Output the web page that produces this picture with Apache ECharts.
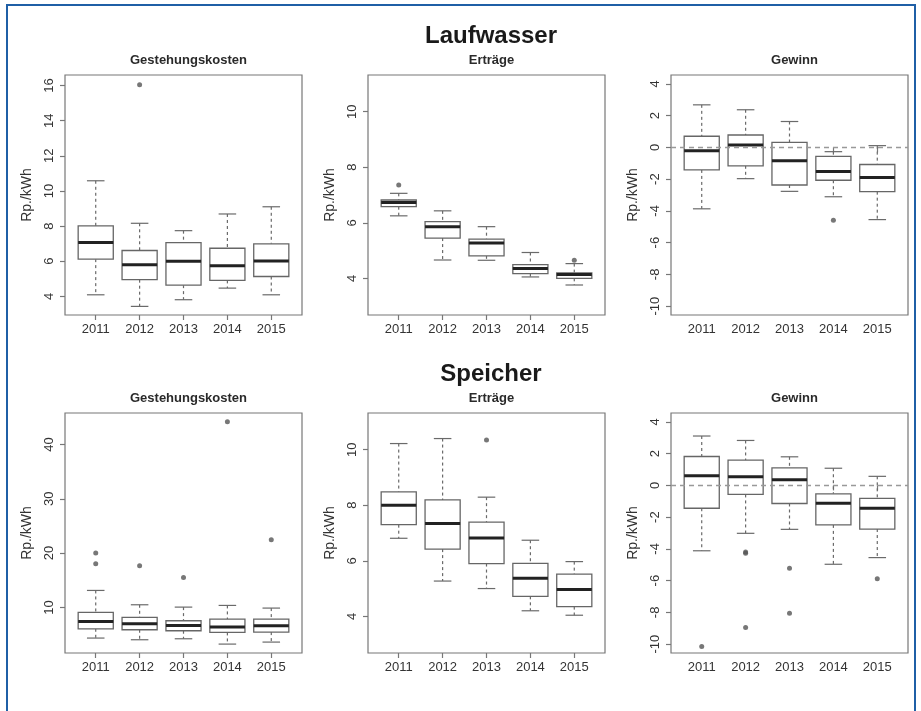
<!DOCTYPE html>
<html>
<head>
<meta charset="utf-8">
<script src="https://cdn.jsdelivr.net/npm/echarts@6/dist/echarts.min.js"></script>
<style>
  html, body { margin: 0; padding: 0; background: #fff; }
  #box { width: 921px; height: 711px; }
</style>
</head>
<body>
<div id="box"></div>
<script>
// categories
var years = ['2011', '2012', '2013', '2014', '2015'];

// box values per year: [lower whisker, Q1, median, Q3, upper whisker]
var lwKostenBox = [[4.09, 6.12, 7.06, 8.01, 10.58], [3.43, 4.95, 5.80, 6.61, 8.16], [3.81, 4.64, 6.00, 7.06, 7.74], [4.47, 4.91, 5.74, 6.74, 8.69], [4.09, 5.13, 6.02, 6.99, 9.10]];
var lwErtragBox = [[6.25, 6.58, 6.73, 6.82, 7.06], [4.66, 5.45, 5.86, 6.04, 6.43], [4.65, 4.81, 5.27, 5.41, 5.86], [4.05, 4.17, 4.35, 4.49, 4.93], [3.76, 4.00, 4.14, 4.20, 4.53]];
var lwGewinnBox = [[-3.87, -1.42, -0.21, 0.70, 2.68], [-1.97, -1.16, 0.15, 0.78, 2.37], [-2.77, -2.37, -0.85, 0.32, 1.63], [-3.11, -2.07, -1.52, -0.57, -0.27], [-4.55, -2.79, -1.90, -1.08, 0.11]];
var spKostenBox = [[4.36, 6.07, 7.42, 9.08, 13.13], [4.05, 5.89, 6.99, 8.16, 10.49], [4.23, 5.71, 6.69, 7.55, 10.06], [3.25, 5.40, 6.38, 7.85, 10.37], [3.62, 5.46, 6.63, 7.85, 9.88]];
var spErtragBox = [[6.81, 7.30, 8.00, 8.48, 10.22], [5.27, 6.42, 7.34, 8.19, 10.40], [5.00, 5.90, 6.82, 7.39, 8.29], [4.20, 4.72, 5.37, 5.91, 6.74], [4.04, 4.35, 4.97, 5.52, 5.97]];
var spGewinnBox = [[-4.12, -1.44, 0.61, 1.82, 3.11], [-3.02, -0.57, 0.55, 1.59, 2.83], [-2.77, -1.14, 0.36, 1.10, 1.80], [-4.97, -2.49, -1.12, -0.53, 1.08], [-4.55, -2.75, -1.44, -0.82, 0.57]];

// outliers: [year position (1..5), value]
var lwKostenOut = [[2, 16.04]];
var lwErtragOut = [[1, 7.36], [5, 4.65]];
var lwGewinnOut = [[4, -4.59]];
var spKostenOut = [[1, 20.0], [1, 18.04], [2, 17.67], [3, 15.52], [4, 44.17], [5, 22.45]];
var spErtragOut = [[3, 10.35]];
var spGewinnOut = [[1, -10.15], [2, -4.2], [2, -4.28], [2, -8.96], [3, -5.22], [3, -8.05], [5, -5.88]];

// y tick labels
var kostenLwTicks = [4, 6, 8, 10, 12, 14, 16];
var kostenSpTicks = [10, 20, 30, 40];
var ertragTicks = [4, 6, 8, 10];
var gewinnTicks = [-10, -8, -6, -4, -2, 0, 2, 4];

var titles = ['Laufwasser', 'Speicher'];
var panelTitles = ['Gestehungskosten', 'Erträge', 'Gewinn'];

var font = 'Liberation Sans, Arial, Helvetica, sans-serif';
var colLeft = [65, 368, 671];
var rowTop = [75, 413];
var panelW = 237, panelH = 240;

var panels = [
    { box: lwKostenBox, out: lwKostenOut, ticks: kostenLwTicks, min: 2.94, max: 16.6, zero: false },
    { box: lwErtragBox, out: lwErtragOut, ticks: ertragTicks, min: 2.68, max: 11.32, zero: false },
    { box: lwGewinnBox, out: lwGewinnOut, ticks: gewinnTicks, min: -10.56, max: 4.56, zero: true },
    { box: spKostenBox, out: spKostenOut, ticks: kostenSpTicks, min: 1.61, max: 45.8, zero: false },
    { box: spErtragBox, out: spErtragOut, ticks: ertragTicks, min: 2.68, max: 11.32, zero: false },
    { box: spGewinnBox, out: spGewinnOut, ticks: gewinnTicks, min: -10.56, max: 4.56, zero: true }
];

// R style box: dashed whiskers, solid staples, thick median
function renderBox(params, api) {
    var x = api.value(0);
    var low = api.coord([x, api.value(1)]);
    var q1 = api.coord([x, api.value(2)]);
    var med = api.coord([x, api.value(3)]);
    var q3 = api.coord([x, api.value(4)]);
    var high = api.coord([x, api.value(5)]);
    var bw = api.size([0.8, 0])[0];
    var sw = bw * 0.5;
    var cx = low[0];
    var dash = { stroke: '#6a6a6a', lineWidth: 1.2, lineDash: [3, 3] };
    var solid = { stroke: '#6a6a6a', lineWidth: 1.2 };
    return {
        type: 'group',
        children: [
            { type: 'line', shape: { x1: cx, y1: high[1], x2: cx, y2: q3[1] }, style: dash },
            { type: 'line', shape: { x1: cx, y1: q1[1], x2: cx, y2: low[1] }, style: dash },
            { type: 'line', shape: { x1: cx - sw / 2, y1: high[1], x2: cx + sw / 2, y2: high[1] }, style: solid },
            { type: 'line', shape: { x1: cx - sw / 2, y1: low[1], x2: cx + sw / 2, y2: low[1] }, style: solid },
            { type: 'rect', shape: { x: cx - bw / 2, y: q3[1], width: bw, height: q1[1] - q3[1] }, style: { fill: '#fff', stroke: '#666', lineWidth: 1.3 } },
            { type: 'line', shape: { x1: cx - bw / 2, y1: med[1], x2: cx + bw / 2, y2: med[1] }, style: { stroke: '#222', lineWidth: 3 } }
        ]
    };
}

var grid = [], xAxis = [], yAxis = [], series = [], title = [];

titles.forEach(function (t, r) {
    title.push({
        text: t, left: 486, top: r === 0 ? 19 : 357, textAlign: 'center',
        textStyle: { fontFamily: font, fontSize: 24, fontWeight: 'bold', color: '#1a1a1a' }
    });
});

panels.forEach(function (p, i) {
    var c = i % 3, r = Math.floor(i / 3);
    grid.push({
        left: colLeft[c], top: rowTop[r], width: panelW, height: panelH,
        show: true, borderColor: '#777', borderWidth: 1.2, backgroundColor: 'transparent'
    });
    title.push({
        text: panelTitles[c], left: colLeft[c] + panelW / 2, top: rowTop[r] - 26, textAlign: 'center',
        textStyle: { fontFamily: font, fontSize: 13, fontWeight: 'bold', color: '#2a2a2a' }
    });
    xAxis.push({
        type: 'value', gridIndex: i, min: 0.3, max: 5.7,
        axisLine: { show: false },
        splitLine: { show: false },
        axisTick: { show: true, length: 5, customValues: [1, 2, 3, 4, 5], lineStyle: { color: '#777', width: 1.2 } },
        axisLabel: {
            customValues: [1, 2, 3, 4, 5], margin: 8,
            fontFamily: font, fontSize: 13, color: '#333',
            formatter: function (v) { return years[Math.round(v) - 1]; }
        }
    });
    yAxis.push({
        type: 'value', gridIndex: i, min: p.min, max: p.max,
        name: 'Rp./kWh', nameLocation: 'middle', nameGap: 31, nameRotate: 90,
        nameTextStyle: { fontFamily: font, fontSize: 14, color: '#333' },
        axisLine: { show: false },
        splitLine: { show: false },
        axisTick: { show: true, length: 5, customValues: p.ticks, lineStyle: { color: '#777', width: 1.2 } },
        axisLabel: {
            customValues: p.ticks, rotate: 90, margin: 9,
            fontFamily: font, fontSize: 13, color: '#333'
        }
    });
    series.push({
        type: 'custom', xAxisIndex: i, yAxisIndex: i,
        renderItem: renderBox,
        encode: { x: 0, y: [1, 2, 3, 4, 5] },
        data: p.box.map(function (b, k) { return [k + 1].concat(b); }),
        z: 2
    });
    var sc = {
        type: 'scatter', xAxisIndex: i, yAxisIndex: i,
        symbol: 'circle', symbolSize: 5,
        itemStyle: { color: '#555' },
        data: p.out,
        z: 3
    };
    if (p.zero) {
        sc.markLine = {
            silent: true, symbol: 'none', label: { show: false },
            lineStyle: { type: [5, 4], color: '#999', width: 1.3 },
            data: [{ yAxis: 0 }]
        };
    }
    series.push(sc);
});

var myChart = echarts.init(document.getElementById('box'));
myChart.setOption({
    animation: false,
    backgroundColor: '#fff',
    title: title,
    grid: grid,
    xAxis: xAxis,
    yAxis: yAxis,
    series: series,
    graphic: [{
        type: 'rect', shape: { x: 7, y: 5, width: 908, height: 730 },
        style: { fill: 'none', stroke: '#1f5fa6', lineWidth: 2 }, silent: true
    }]
});
</script>
</body>
</html>
